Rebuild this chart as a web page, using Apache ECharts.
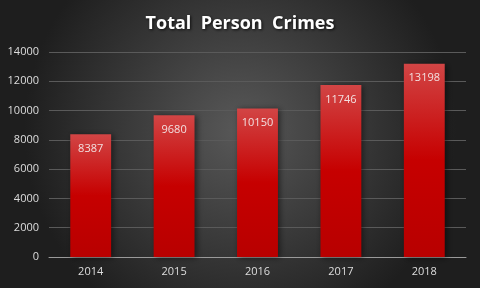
<!DOCTYPE html>
<html><head><meta charset="utf-8">
<script src="https://cdn.jsdelivr.net/npm/echarts@6/dist/echarts.min.js"></script>
<style>html,body{margin:0;padding:0;background:#333;}#c{width:480px;height:288px;}</style>
</head><body><div id="c"></div>
<script>
const years = ['2014','2015','2016','2017','2018'];
const crimes = [8387, 9680, 10150, 11746, 13198];
const yTicks = [0, 2000, 4000, 6000, 8000, 10000, 12000, 14000];
const titleText = 'Total  Person  Crimes';

const chart = echarts.init(document.getElementById('c'), null, {renderer:'canvas'});
chart.setOption({
  backgroundColor: new echarts.graphic.RadialGradient(0.5, 0.45, 0.75, [
    {offset:0, color:'#585858'}, {offset:1, color:'#1e1e1e'}
  ]),
  animation: false,
  title: {
    text: titleText, left: 'center', top: 10,
    textStyle: {color:'#ffffff', fontSize:18, fontWeight:'bold', fontFamily:'Open Sans',
      textShadowColor:'rgba(0,0,0,0.8)', textShadowBlur:3, textShadowOffsetX:1, textShadowOffsetY:1}
  },
  grid: {left: 49, right: 14, top: 52, bottom: 31, containLabel:false},
  xAxis: {
    type:'category', data: years,
    axisLine:{lineStyle:{color:'#9a9a9a', width:1}},
    axisTick:{show:false},
    axisLabel:{color:'#dddddd', fontSize:11, fontFamily:'Open Sans', margin:9}
  },
  yAxis: {
    type:'value', min: yTicks[0], max: yTicks[yTicks.length-1], interval: 2000,
    axisLine:{show:false}, axisTick:{show:false},
    splitLine:{lineStyle:{color:'#5a5a5a', width:1}},
    axisLabel:{color:'#dddddd', fontSize:11, fontFamily:'Open Sans', margin:10,
      formatter: v => String(v)}
  },
  series: [{
    type:'bar', data: crimes, barWidth: '49%',
    itemStyle: {
      color: new echarts.graphic.LinearGradient(0,0,0,1,[
        {offset:0, color:'#d24545'}, {offset:0.5, color:'#c60000'}, {offset:1, color:'#b80000'}
      ]),
      shadowColor:'rgba(0,0,0,0.5)', shadowBlur:6, shadowOffsetX:2, shadowOffsetY:1
    },
    label: {show:true, position:'insideTop', distance:9, color:'#f2e0e0', fontSize:11, fontFamily:'Open Sans'}
  }]
});
</script></body></html>
